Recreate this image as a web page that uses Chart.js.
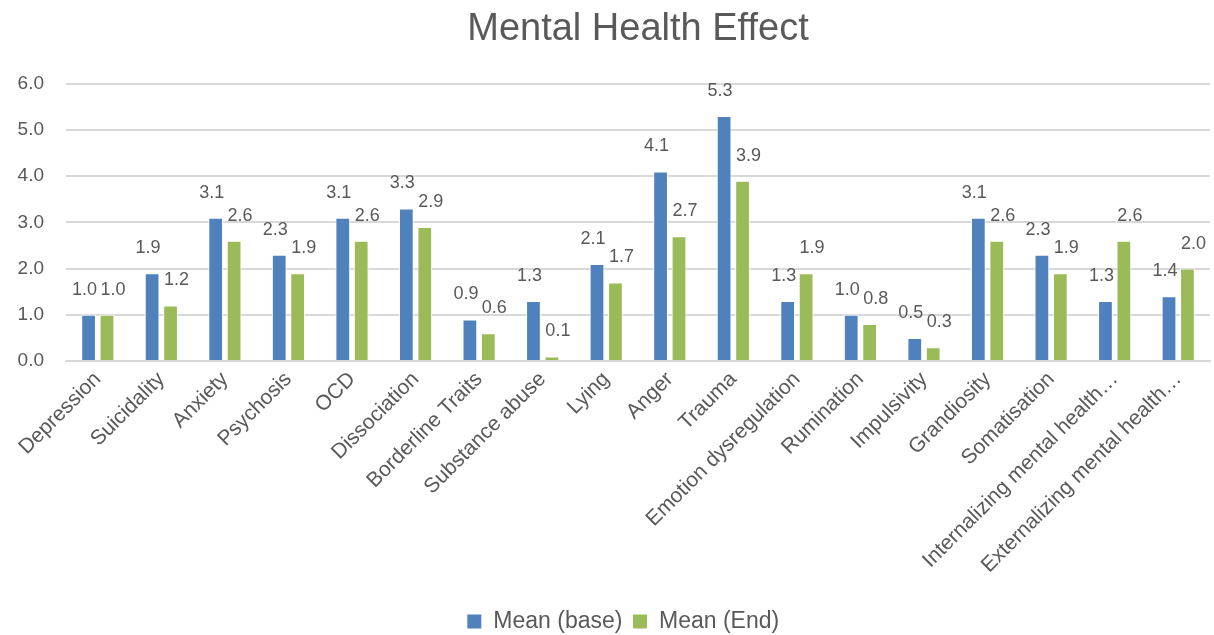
<!DOCTYPE html>
<html>
<head>
<meta charset="utf-8">
<title>Mental Health Effect</title>
<script src="https://cdn.jsdelivr.net/npm/chart.js@4/dist/chart.umd.min.js"></script>
<style>
    html, body { margin: 0; padding: 0; background: #fff; overflow: hidden; }
    #wrap { width: 1214px; height: 643px; }
</style>
</head>
<body>
<div id="wrap"><canvas id="myChart" width="1214" height="643"></canvas></div>
<script>
const categories = [
    'Depression', 'Suicidality', 'Anxiety', 'Psychosis', 'OCD', 'Dissociation',
    'Borderline Traits', 'Substance abuse', 'Lying', 'Anger', 'Trauma',
    'Emotion dysregulation', 'Rumination', 'Impulsivity', 'Grandiosity',
    'Somatisation', 'Internalizing mental health…', 'Externalizing mental health…'
];
const meanBase = [1.0, 1.9, 3.1, 2.3, 3.1, 3.3, 0.9, 1.3, 2.1, 4.1, 5.3, 1.3, 1.0, 0.5, 3.1, 2.3, 1.3, 1.4];
const meanEnd = [1.0, 1.2, 2.6, 1.9, 2.6, 2.9, 0.6, 0.1, 1.7, 2.7, 3.9, 1.9, 0.8, 0.3, 2.6, 1.9, 2.6, 2.0];
const yTicks = [0, 1, 2, 3, 4, 5, 6];

const textColor = '#595959';
const fontFamily = '"Liberation Sans", Arial, sans-serif';

// value labels above each bar
const barLabels = {
    id: 'barLabels',
    afterDatasetsDraw(chart) {
        const ctx = chart.ctx;
        ctx.save();
        ctx.font = '18px ' + fontFamily;
        ctx.fillStyle = textColor;
        ctx.textAlign = 'center';
        ctx.textBaseline = 'middle';
        chart.data.datasets.forEach((ds, di) => {
            const meta = chart.getDatasetMeta(di);
            const shift = di === 0 ? -4 : 6;
            meta.data.forEach((bar, i) => {
                ctx.fillText(ds.data[i].toFixed(1), bar.x + shift, bar.y - 25);
            });
        });
        ctx.restore();
    }
};

// nudge the legend a little to the left of the plot centre
const legendNudge = {
    id: 'legendNudge',
    afterLayout(chart) {
        if (chart.legend) {
            chart.legend.left -= 15;
            chart.legend.right -= 15;
        }
    }
};

const ctx = document.getElementById('myChart').getContext('2d');
const myChart = new Chart(ctx, {
    type: 'bar',
    data: {
        labels: categories,
        datasets: [{
            label: 'Mean (base)',
            data: meanBase,
            backgroundColor: '#4F81BD',
            borderColor: '#ffffff',
            borderWidth: 1,
            barPercentage: 0.8,
            categoryPercentage: 0.58
        }, {
            label: 'Mean (End)',
            data: meanEnd,
            backgroundColor: '#9BBB59',
            borderColor: '#ffffff',
            borderWidth: 1,
            barPercentage: 0.8,
            categoryPercentage: 0.58
        }]
    },
    options: {
        responsive: false,
        animation: false,
        layout: { padding: { top: 0, right: 4, left: 0, bottom: 0 } },
        plugins: {
            title: {
                display: true,
                fullSize: false,
                text: 'Mental Health Effect',
                color: textColor,
                font: { family: fontFamily, size: 38, weight: 'normal' },
                padding: { top: 7, bottom: 31 }
            },
            legend: {
                position: 'bottom',
                fullSize: false,
                labels: {
                    color: textColor,
                    font: { family: fontFamily, size: 23 },
                    boxWidth: 15,
                    boxHeight: 15,
                    padding: 10
                }
            },
            tooltip: { enabled: false }
        },
        scales: {
            x: {
                grid: { display: false, drawTicks: false },
                border: { color: '#D9D9D9', width: 2 },
                ticks: {
                    color: textColor,
                    font: { family: fontFamily, size: 21 },
                    maxRotation: 45,
                    minRotation: 45,
                    autoSkip: false,
                    padding: 6
                },
                afterFit(scale) { scale.height = 239; }
            },
            y: {
                min: 0,
                max: 6,
                afterBuildTicks(scale) { scale.ticks = yTicks.map(v => ({ value: v })); },
                grid: { color: '#D9D9D9', lineWidth: 2, drawTicks: false },
                border: { display: false },
                ticks: {
                    color: textColor,
                    font: { family: fontFamily, size: 19 },
                    padding: 22,
                    callback: v => v.toFixed(1)
                },
                afterFit(scale) { scale.width = 66; }
            }
        }
    },
    plugins: [barLabels, legendNudge]
});
</script>
</body>
</html>
